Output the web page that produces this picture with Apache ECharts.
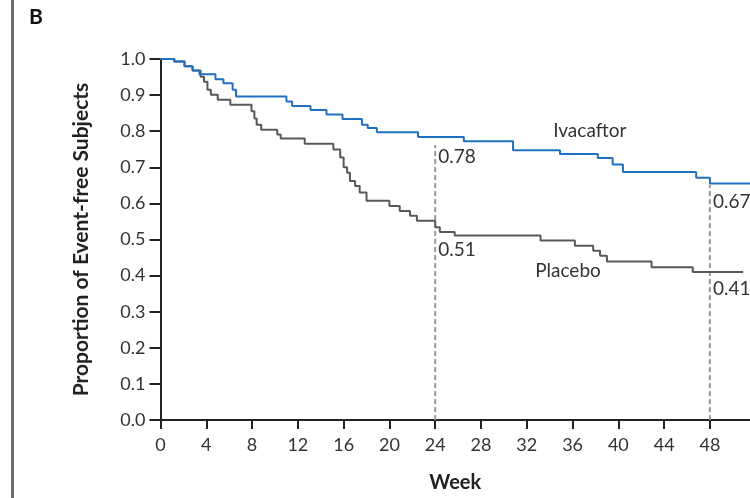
<!DOCTYPE html>
<html>
<head>
<meta charset="utf-8">
<script src="https://cdn.jsdelivr.net/npm/echarts@6/dist/echarts.min.js"></script>
<style>
html,body{margin:0;padding:0;background:#fff;}
#chart{width:750px;height:498px;}
</style>
</head>
<body>
<div id="chart"></div>
<script>
// Kaplan-Meier step data (week, proportion event-free)
const ivaWeeks = [0,1.2,2.1,2.8,3.4,4.8,5.5,6.3,6.6,11.0,11.5,13.1,14.5,15.9,17.6,18.1,18.9,22.5,26.5,30.8,34.9,38.2,39.5,40.4,46.8,48.0,51.5];
const ivaValues = [1.0,0.993,0.98,0.968,0.958,0.944,0.933,0.915,0.896,0.882,0.870,0.859,0.846,0.834,0.818,0.809,0.797,0.784,0.772,0.747,0.737,0.726,0.708,0.687,0.671,0.655,0.655];

const plaWeeks = [0,1.2,2.1,2.8,3.5,3.8,4.1,4.4,5.0,6.1,7.95,8.2,8.4,8.8,10.2,10.5,12.6,15.1,15.7,16.0,16.3,16.55,17.0,17.4,18.0,20.0,20.9,21.8,22.4,24.0,24.4,25.7,33.2,36.2,37.8,38.4,39.0,42.9,46.5,50.9];
const plaValues = [1.0,0.993,0.98,0.968,0.951,0.937,0.915,0.901,0.887,0.873,0.855,0.835,0.818,0.804,0.791,0.780,0.765,0.749,0.727,0.700,0.685,0.662,0.648,0.630,0.607,0.593,0.579,0.566,0.552,0.534,0.521,0.511,0.497,0.483,0.469,0.455,0.439,0.423,0.410,0.410];

const xTicks = [0,4,8,12,16,20,24,28,32,36,40,44,48];
const yTicks = [0.0,0.1,0.2,0.3,0.4,0.5,0.6,0.7,0.8,0.9,1.0];

const markWeeks = [24, 48];
const ivaAtMark = [0.78, 0.67];
const plaAtMark = [0.51, 0.41];

const seriesNames = ['Ivacaftor', 'Placebo'];

const FONT = 'Lato';
const zip = (a, b) => a.map((v, i) => [v, b[i]]);

const dashSeries = markWeeks.map((w, i) => ({
  type: 'line',
  data: [[w, 0], [w, ivaAtMark[i] - 0.018]],
  symbol: 'none',
  silent: true,
  lineStyle: { color: '#9a9a9a', width: 2, type: [5, 3] },
  z: 1
}));

const chart = echarts.init(document.getElementById('chart'), null, { renderer: 'canvas' });
chart.setOption({
  animation: false,
  backgroundColor: '#fff',
  grid: { left: 160.5, right: 0, top: 59, bottom: 76, containLabel: false },
  xAxis: {
    type: 'value', min: 0, max: 51.5, interval: 4,
    name: 'Week', nameLocation: 'middle', nameGap: 53,
    nameTextStyle: { fontFamily: FONT, fontWeight: 'bold', fontSize: 20, color: '#222' },
    axisLine: { show: true, onZero: false, lineStyle: { color: '#222', width: 2 } },
    axisTick: { show: true, length: 9, lineStyle: { color: '#222', width: 2 }, customValues: xTicks },
    axisLabel: { fontFamily: FONT, fontSize: 18, color: '#333', margin: 16, customValues: xTicks,
      formatter: v => String(v) },
    splitLine: { show: false }
  },
  yAxis: {
    type: 'value', min: 0, max: 1, interval: 0.1,
    name: 'Proportion of Event-free Subjects', nameLocation: 'middle', nameGap: 69, nameRotate: 90,
    nameTextStyle: { fontFamily: FONT, fontWeight: 'bold', fontSize: 21, color: '#222' },
    axisLine: { show: true, onZero: false, lineStyle: { color: '#222', width: 2 } },
    axisTick: { show: true, length: 11, lineStyle: { color: '#222', width: 2 } },
    axisLabel: { fontFamily: FONT, fontSize: 18, color: '#333', margin: 15,
      formatter: v => yTicks.reduce((a, t) => Math.abs(t - v) < 1e-6 ? t.toFixed(1) : a, v.toFixed(1)) },
    splitLine: { show: false }
  },
  series: [
    ...dashSeries,
    {
      name: seriesNames[1], type: 'line', step: 'end', symbol: 'none',
      data: zip(plaWeeks, plaValues),
      lineStyle: { color: '#585858', width: 2 }, z: 3
    },
    {
      name: seriesNames[0], type: 'line', step: 'end', symbol: 'none',
      data: zip(ivaWeeks, ivaValues),
      lineStyle: { color: '#1f70c0', width: 2 }, z: 4
    }
  ]
});

// annotation texts positioned through the chart's own scales
const labelDy = { iva: [18, 24], pla: [14, 17] };
const graphics = [
  { type: 'rect', shape: { x: 11, y: 0, width: 3, height: 498 }, style: { fill: '#6e6e6e' } },
  { type: 'text', x: 29, y: 7, style: { text: 'B', font: 'bold 21px ' + FONT, fill: '#111' } }
];
markWeeks.forEach((w, i) => {
  const pi = chart.convertToPixel({ gridIndex: 0 }, [w, ivaAtMark[i]]);
  const pp = chart.convertToPixel({ gridIndex: 0 }, [w, plaAtMark[i]]);
  graphics.push({ type: 'text', x: pi[0] + 3, y: pi[1] + labelDy.iva[i], z: 10,
    style: { text: ivaAtMark[i].toFixed(2), font: '19px ' + FONT, fill: '#333', verticalAlign: 'middle' } });
  graphics.push({ type: 'text', x: pp[0] + 3, y: pp[1] + labelDy.pla[i], z: 10,
    style: { text: plaAtMark[i].toFixed(2), font: '19px ' + FONT, fill: '#333', verticalAlign: 'middle' } });
});
const nameAnchors = [[37.5, 0.80], [35.6, 0.413]];
seriesNames.forEach((n, i) => {
  const p = chart.convertToPixel({ gridIndex: 0 }, nameAnchors[i]);
  graphics.push({ type: 'text', x: p[0], y: p[1], z: 10,
    style: { text: n, font: '19px ' + FONT, fill: '#333', align: 'center', verticalAlign: 'middle' } });
});
chart.setOption({ graphic: graphics });
</script>
</body>
</html>
